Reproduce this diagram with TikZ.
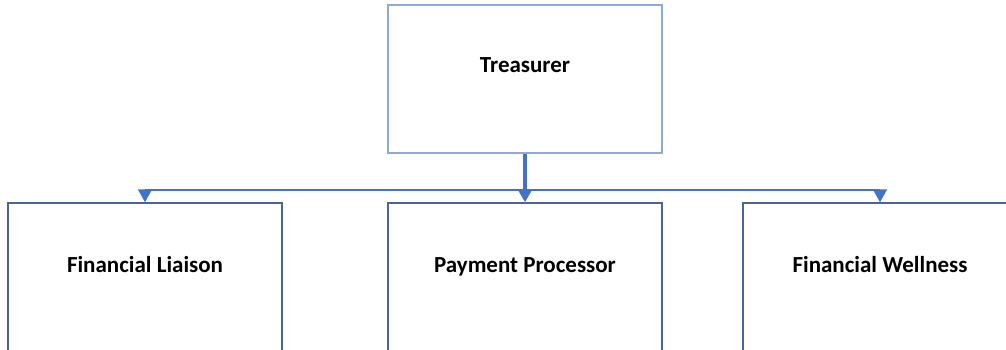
\documentclass[tikz,border=0pt]{standalone}
\usepackage{fontspec}
\setmainfont{Carlito}
\usetikzlibrary{arrows.meta}
\definecolor{topline}{HTML}{8EAADB}
\definecolor{subline}{HTML}{4A6398}
\definecolor{conn}{HTML}{4472C4}
\tikzset{
  x=1pt,y=1pt,
  topbox/.style={draw=topline,line width=1.5pt,minimum width=274pt,minimum height=148pt,inner sep=0pt,fill=white},
  subbox/.style={draw=subline,line width=1.5pt,minimum width=274pt,minimum height=148pt,inner sep=0pt,fill=white},
  lbl/.style={font=\fontsize{23}{26}\selectfont\bfseries,text=black,inner sep=0pt,anchor=base},
  tip/.style={-{Triangle[width=14pt,length=13pt]}},
}
\begin{document}
\begin{tikzpicture}
\useasboundingbox (0,0) rectangle (1006,-349);
\fill[white] (0,0) rectangle (1006,-349);
\node[topbox] (tr) at (525,-79) {};
\node[subbox] (fl) at (145,-277) {};
\node[subbox] (pp) at (525,-277) {};
\node[subbox] (fw) at (880,-277) {};
\node[lbl] (trl) at (525,-72) {Treasurer};
\node[lbl] (fll) at (145,-272) {Financial Liaison};
\node[lbl] (ppl) at (525,-272) {Payment Processor};
\node[lbl] (fwl) at (880,-272) {Financial Wellness};
\coordinate (hl) at (145,-190);
\coordinate (hr) at (880,-190);
\draw[conn,line width=2pt] (hl) -- (hr);
\draw[conn,line width=3.5pt,tip] (tr.south) -- (pp.north);
\draw[conn,line width=2pt,tip] (hl) -- (fl.north);
\draw[conn,line width=2pt,tip] (hr) -- (fw.north);
\end{tikzpicture}
\end{document}
